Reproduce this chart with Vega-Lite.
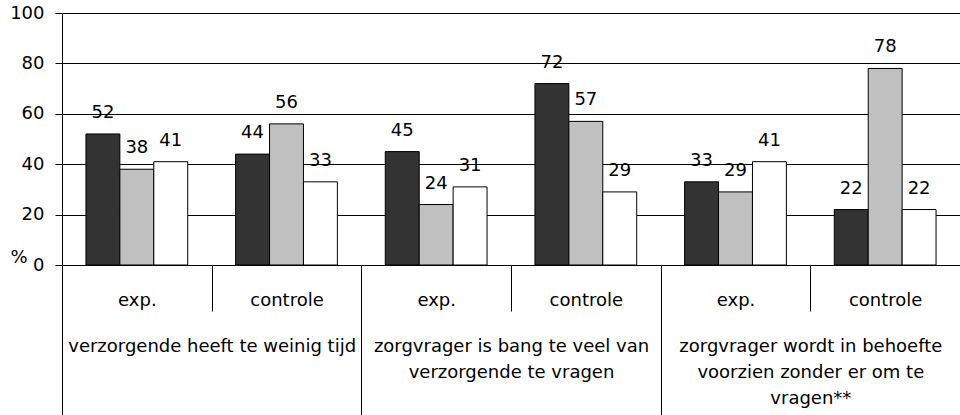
{
  "$schema": "https://vega.github.io/schema/vega-lite/v6.json",
  "width": 898,
  "height": 252,
  "autosize": {"type": "none"},
  "padding": {"left": 62, "top": 13, "right": 0, "bottom": 150},
  "background": "white",
  "config": {
    "view": {"stroke": null},
    "font": "DejaVu Sans",
    "axis": {
      "domainColor": "#000",
      "tickColor": "#000",
      "labelColor": "#000",
      "titleColor": "#000",
      "labelFont": "DejaVu Sans",
      "labelFontSize": 18,
      "titleFont": "DejaVu Sans",
      "titleFontSize": 18,
      "titleFontWeight": "normal",
      "labelLimit": 0,
      "labelOverlap": false,
      "labelFlush": false
    }
  },
  "data": {
    "values": [
      {"thema": "verzorgende heeft te weinig tijd", "cel": "1|exp.", "reeks": "a", "waarde": 52},
      {"thema": "verzorgende heeft te weinig tijd", "cel": "1|exp.", "reeks": "b", "waarde": 38},
      {"thema": "verzorgende heeft te weinig tijd", "cel": "1|exp.", "reeks": "c", "waarde": 41},
      {"thema": "verzorgende heeft te weinig tijd", "cel": "1|controle", "reeks": "a", "waarde": 44},
      {"thema": "verzorgende heeft te weinig tijd", "cel": "1|controle", "reeks": "b", "waarde": 56},
      {"thema": "verzorgende heeft te weinig tijd", "cel": "1|controle", "reeks": "c", "waarde": 33},
      {"thema": "zorgvrager is bang te veel van|verzorgende te vragen", "cel": "2|exp.", "reeks": "a", "waarde": 45},
      {"thema": "zorgvrager is bang te veel van|verzorgende te vragen", "cel": "2|exp.", "reeks": "b", "waarde": 24},
      {"thema": "zorgvrager is bang te veel van|verzorgende te vragen", "cel": "2|exp.", "reeks": "c", "waarde": 31},
      {"thema": "zorgvrager is bang te veel van|verzorgende te vragen", "cel": "2|controle", "reeks": "a", "waarde": 72},
      {"thema": "zorgvrager is bang te veel van|verzorgende te vragen", "cel": "2|controle", "reeks": "b", "waarde": 57},
      {"thema": "zorgvrager is bang te veel van|verzorgende te vragen", "cel": "2|controle", "reeks": "c", "waarde": 29},
      {"thema": "zorgvrager wordt in behoefte|voorzien zonder er om te|vragen**", "cel": "3|exp.", "reeks": "a", "waarde": 33},
      {"thema": "zorgvrager wordt in behoefte|voorzien zonder er om te|vragen**", "cel": "3|exp.", "reeks": "b", "waarde": 29},
      {"thema": "zorgvrager wordt in behoefte|voorzien zonder er om te|vragen**", "cel": "3|exp.", "reeks": "c", "waarde": 41},
      {"thema": "zorgvrager wordt in behoefte|voorzien zonder er om te|vragen**", "cel": "3|controle", "reeks": "a", "waarde": 22},
      {"thema": "zorgvrager wordt in behoefte|voorzien zonder er om te|vragen**", "cel": "3|controle", "reeks": "b", "waarde": 78},
      {"thema": "zorgvrager wordt in behoefte|voorzien zonder er om te|vragen**", "cel": "3|controle", "reeks": "c", "waarde": 22}
    ]
  },
  "layer": [
    {
      "encoding": {
        "x": {"field": "cel", "type": "nominal", "sort": null, "axis": null,
              "scale": {"paddingInner": 0.32, "paddingOuter": 0.16}},
        "xOffset": {"field": "reeks", "type": "nominal", "sort": null,
                    "scale": {"paddingInner": 0, "paddingOuter": 0}},
        "y": {"field": "waarde", "type": "quantitative",
              "scale": {"domain": [0, 100], "nice": false, "zero": true},
              "axis": {"values": [0, 20, 40, 60, 80, 100], "grid": true, "gridColor": "#000", "gridOpacity": 1,
                       "tickSize": 7, "labelPadding": 11, "domain": true,
                       "title": "%", "titleAngle": 0, "titleAlign": "left", "titleBaseline": "alphabetic",
                       "titleX": -52, "titleY": 249}}
      },
      "layer": [
        {
          "mark": {"type": "bar", "stroke": "#000", "strokeWidth": 1},
          "encoding": {
            "color": {"field": "reeks", "type": "nominal", "legend": null,
                      "scale": {"domain": ["a", "b", "c"], "range": ["#333333", "#c0c0c0", "#ffffff"]}}
          }
        },
        {
          "mark": {"type": "text", "baseline": "alphabetic", "dy": -16, "fontSize": 18, "font": "DejaVu Sans", "color": "#000"},
          "encoding": {"text": {"field": "waarde", "type": "quantitative"}}
        }
      ]
    },
    {
      "mark": {"type": "point", "opacity": 0},
      "encoding": {
        "x": {"field": "cel", "type": "nominal", "sort": null,
              "scale": {"paddingInner": 0, "paddingOuter": 0},
              "axis": {"orient": "bottom", "title": null, "labelAngle": 0, "labelAlign": "center", "tickBand": "extent",
                       "tickSize": 46, "labelBaseline": "alphabetic", "labelPadding": -6,
                       "labelExpr": "split(datum.label, '|')[1]"}}
      }
    },
    {
      "mark": {"type": "point", "opacity": 0},
      "encoding": {
        "x": {"field": "thema", "type": "nominal", "sort": null,
              "scale": {"paddingInner": 0, "paddingOuter": 0},
              "axis": {"orient": "bottom", "title": null, "labelAngle": 0, "labelAlign": "center", "tickBand": "extent",
                       "tickSize": 150, "labelBaseline": "alphabetic", "labelPadding": -64,
                       "labelLineHeight": 26,
                       "labelExpr": "split(datum.label, '|')"}}
      }
    }
  ],
  "resolve": {"scale": {"x": "independent"}}
}
